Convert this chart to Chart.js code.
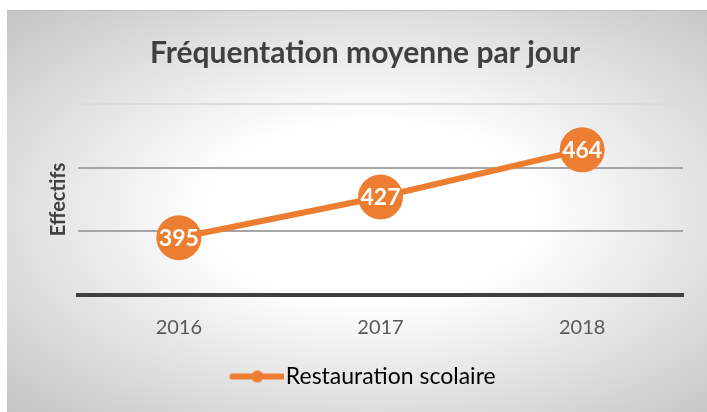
<!DOCTYPE html>
<html>
<head>
<meta charset="utf-8">
<script src="https://cdn.jsdelivr.net/npm/chart.js@4"></script>
<style>
  body { margin: 0; background: #fff; }
  #box {
    position: absolute; left: 7px; top: 10px; width: 700px; height: 402px;
    background: radial-gradient(ellipse farthest-corner at 52% 50%, #ffffff 0%, #ffffff 32%, #c4c4c4 100%);
    border-top: 1px solid #bdbdbd; box-sizing: border-box;
  }
</style>
</head>
<body>
<div id="box"><canvas id="freq" width="700" height="401"></canvas></div>
<script>
const years = ['2016', '2017', '2018'];
const effectifs = [395, 427, 464];
const seriesName = 'Restauration scolaire';
const orange = '#ED7D31';

// legend marker: line with a dot in the middle, wider than its slot so the text sits close
const marker = document.createElement('canvas');
marker.width = 60; marker.height = 14;
const mctx = marker.getContext('2d');
mctx.strokeStyle = orange; mctx.lineWidth = 6; mctx.lineCap = 'round';
mctx.beginPath(); mctx.moveTo(8, 7); mctx.lineTo(58, 7); mctx.stroke();
mctx.fillStyle = orange;
mctx.beginPath(); mctx.arc(33, 7, 6, 0, Math.PI * 2); mctx.fill();

const valueLabels = {
  id: 'valueLabels',
  afterDatasetsDraw(chart) {
    const ctx = chart.ctx;
    const meta = chart.getDatasetMeta(0);
    ctx.save();
    ctx.fillStyle = '#fff';
    ctx.font = 'bold 23px Lato';
    ctx.textAlign = 'center';
    ctx.textBaseline = 'middle';
    meta.data.forEach((pt, i) => {
      ctx.fillText(effectifs[i], pt.x, pt.y + 1);
    });
    ctx.restore();
  }
};

const freqChart = new Chart(document.getElementById('freq'), {
  type: 'line',
  data: {
    labels: years,
    datasets: [{
      label: seriesName,
      data: effectifs,
      borderColor: orange,
      backgroundColor: orange,
      borderWidth: 6,
      pointRadius: 22.5,
      pointHoverRadius: 22.5,
      pointBackgroundColor: orange,
      pointBorderWidth: 0
    }]
  },
  options: {
    responsive: false,
    animation: false,
    layout: { padding: { left: 40, right: 24, bottom: 14 } },
    scales: {
      x: {
        offset: true,
        grid: { display: false },
        border: { display: true, color: '#404040', width: 4 },
        ticks: { color: '#595959', font: { family: 'Lato', size: 20 }, padding: 13 }
      },
      y: {
        min: 350,
        max: 500,
        ticks: { display: false, stepSize: 50 },
        border: { display: false },
        grid: {
          drawTicks: false,
          lineWidth: 2,
          color: c => c.tick.value === 500 ? '#dcdcdc' : '#a6a6a6'
        },
        title: {
          display: true,
          text: 'Effectifs',
          color: '#404040',
          font: { family: 'Lato', size: 20, weight: 'bold' },
          padding: { top: 0, bottom: 7 }
        }
      }
    },
    plugins: {
      title: {
        display: true,
        text: 'Fréquentation moyenne par jour',
        color: '#404040',
        font: { family: 'Lato', size: 30, weight: 'bold' },
        padding: { top: 24, bottom: 33 }
      },
      legend: {
        position: 'bottom',
        labels: {
          color: '#404040',
          font: { family: 'Lato', size: 23 },
          usePointStyle: true,
          pointStyleWidth: 40,
          padding: 12,
          generateLabels: chart => [{
            text: seriesName,
            pointStyle: marker,
            fillStyle: orange,
            strokeStyle: orange,
            lineWidth: 0,
            datasetIndex: 0
          }]
        }
      },
      tooltip: { enabled: false }
    }
  },
  plugins: [valueLabels]
});
</script>
</body>
</html>
